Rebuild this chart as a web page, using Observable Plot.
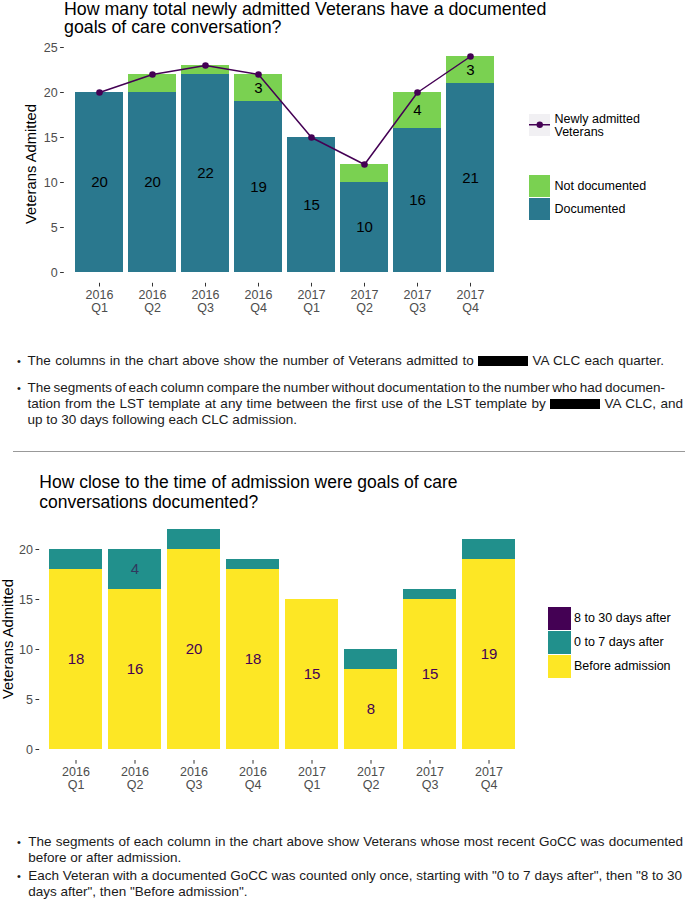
<!DOCTYPE html>
<html><head><meta charset="utf-8">
<script src="https://cdn.jsdelivr.net/npm/d3@7"></script>
<script src="https://cdn.jsdelivr.net/npm/@observablehq/plot@0.6"></script>
<style>
html,body{margin:0;padding:0;background:#fff;}
#page{position:relative;width:685px;height:905px;overflow:hidden;font-family:"Liberation Sans",Arial,Helvetica,sans-serif;color:#000;}
.abs{position:absolute;white-space:nowrap;}
.title{font-size:17.8px;line-height:17.8px;}
.p{font-size:13.5px;line-height:16px;color:#1a1a1a;}
.b{font-size:11px;line-height:16px;color:#1a1a1a;}
.redact{display:inline-block;width:50px;height:10.5px;background:#000;vertical-align:-1px;}
.key{position:absolute;}
.leg{position:absolute;font-size:12.5px;line-height:13px;white-space:nowrap;}
.ytitle{position:absolute;font-size:14.8px;line-height:17px;white-space:nowrap;transform:translate(-50%,-50%) rotate(-90deg);}
.svgwrap{position:absolute;left:0;}
</style></head>
<body><div id="page">
  <div id="c1" class="svgwrap" style="top:0px;"></div>
  <div id="c2" class="svgwrap" style="top:510px;"></div>

  <div class="abs title" style="left:64px;top:0.5px;">How many total newly admitted Veterans have a documented</div>
  <div class="abs title" style="left:64px;top:18.8px;">goals of care conversation?</div>
  <div class="ytitle" style="left:30.7px;top:164px;">Veterans Admitted</div>

  <div class="key" style="left:528.5px;top:114px;width:21.5px;height:21.5px;background:#f1f0f3;">
    <svg width="21.5" height="21.5" style="position:absolute;left:0;top:0;"><line x1="0" y1="10.75" x2="21.5" y2="10.75" stroke="#440154" stroke-width="1.5"/><circle cx="10.75" cy="10.75" r="3.2" fill="#440154"/></svg>
  </div>
  <div class="leg" style="left:554.5px;top:112.5px;">Newly admitted<br>Veterans</div>
  <div class="key" style="left:528.5px;top:175px;width:21.5px;height:21.7px;background:#7AD151;"></div>
  <div class="leg" style="left:554.5px;top:179.5px;">Not documented</div>
  <div class="key" style="left:528.5px;top:198.3px;width:21.5px;height:21.7px;background:#2A788E;"></div>
  <div class="leg" style="left:554.5px;top:202.5px;">Documented</div>

  <div class="abs b" style="left:17px;top:353px;">•</div>
  <span id="p1l1" class="abs p" style="left:27.5px;top:353px;">The columns in the chart above show the number of Veterans admitted to <span class="redact"></span> VA CLC each quarter.</span>
  <div class="abs b" style="left:17px;top:380px;">•</div>
  <span id="p2l1" class="abs p" style="left:27.5px;top:380px;">The segments of each column compare the number without documentation to the number who had documen-</span>
  <span id="p2l2" class="abs p" style="left:27.5px;top:396px;">tation from the LST template at any time between the first use of the LST template by <span class="redact"></span> VA CLC, and</span>
  <span id="p2l3" class="abs p" style="left:27.5px;top:412px;">up to 30 days following each CLC admission.</span>

  <div class="abs" style="left:12.7px;top:451px;width:673px;height:0;border-top:1.3px solid #999;"></div>

  <div class="abs title" style="left:39.3px;top:473.2px;font-size:17.5px;line-height:19.5px;">How close to the time of admission were goals of care<br>conversations documented?</div>
  <div class="ytitle" style="left:7.5px;top:639px;">Veterans Admitted</div>

  <div class="key" style="left:548.3px;top:607.3px;width:22.4px;height:22.5px;background:#440154;"></div>
  <div class="leg" style="left:574px;top:612.2px;">8 to 30 days after</div>
  <div class="key" style="left:548.3px;top:631px;width:22.4px;height:22.5px;background:#21908C;"></div>
  <div class="leg" style="left:574px;top:635.5px;">0 to 7 days after</div>
  <div class="key" style="left:548.3px;top:655px;width:22.4px;height:22.5px;background:#FDE725;"></div>
  <div class="leg" style="left:574px;top:659.5px;">Before admission</div>

  <div class="abs b" style="left:17px;top:834px;">•</div>
  <span id="p3l1" class="abs p" style="left:28.3px;top:834px;">The segments of each column in the chart above show Veterans whose most recent GoCC was documented</span>
  <span class="abs p" style="left:28.3px;top:850px;">before or after admission.</span>
  <div class="abs b" style="left:17px;top:868px;">•</div>
  <span id="p4l1" class="abs p" style="left:28.3px;top:868px;">Each Veteran with a documented GoCC was counted only once, starting with "0 to 7 days after", then "8 to 30</span>
  <span class="abs p" style="left:28.3px;top:884px;">days after", then "Before admission".</span>
</div>
<script>
// ---- data ----
const quarters = ["2016 Q1","2016 Q2","2016 Q3","2016 Q4","2017 Q1","2017 Q2","2017 Q3","2017 Q4"];
// chart 1
const statuses1 = ["Documented","Not documented"];
const colors1 = ["#2A788E","#7AD151"];
const documented = [20,20,22,19,15,10,16,21];
const notDocumented = [0,2,1,3,0,2,4,3];
const newlyAdmitted = [20,22,23,22,15,12,20,24];
const yTicks1 = [0,5,10,15,20,25];
// chart 2
const statuses2 = ["Before admission","0 to 7 days after","8 to 30 days after"];
const colors2 = ["#FDE725","#21908C","#440154"];
const beforeAdmission = [18,16,20,18,15,8,15,19];
const days0to7 = [2,4,2,1,0,2,1,2];
const days8to30 = [0,0,0,0,0,0,0,0];
const yTicks2 = [0,5,10,15,20];

const font = '"Liberation Sans", Arial, Helvetica, sans-serif';

const rows1 = [];
quarters.forEach((q,i)=>{
  rows1.push({quarter:q, status:statuses1[0], count:documented[i]});
  rows1.push({quarter:q, status:statuses1[1], count:notDocumented[i]});
});
const totals1 = quarters.map((q,i)=>({quarter:q, total:newlyAdmitted[i]}));

const chart1 = Plot.plot({
  width:685, height:320,
  marginLeft:63.8, marginRight:180.8, marginTop:45.2, marginBottom:37.2,
  x:{domain:quarters, paddingInner:0.1, paddingOuter:0.15},
  y:{domain:[-1.2,25.2]},
  color:{domain:statuses1, range:colors1},
  style:{fontFamily:font, background:"transparent", overflow:"visible"},
  marks:[
    Plot.barY(rows1, {x:"quarter", y:"count", fill:"status"}),
    Plot.text(rows1, Plot.stackY({x:"quarter", y:"count", text:d=>d.count>2?String(d.count):"", fill:"#000", fontSize:15})),
    Plot.line(totals1, {x:"quarter", y:"total", stroke:"#440154", strokeWidth:1.5}),
    Plot.dot(totals1, {x:"quarter", y:"total", fill:"#440154", r:3.3}),
    Plot.axisY({ticks:yTicks1, tickSize:3.7, tickPadding:3, fontSize:12.5, label:null, fill:"#4d4d4d", stroke:"#333"}),
    Plot.axisX({tickSize:3.7, tickPadding:3, fontSize:12.5, label:null, tickFormat:d=>d.replace(" ","\n"), lineHeight:1.04, fill:"#4d4d4d", stroke:"#333"})
  ]
});
document.getElementById("c1").appendChild(chart1);

const rows2 = [];
quarters.forEach((q,i)=>{
  rows2.push({quarter:q, status:statuses2[0], count:beforeAdmission[i]});
  rows2.push({quarter:q, status:statuses2[1], count:days0to7[i]});
  rows2.push({quarter:q, status:statuses2[2], count:days8to30[i]});
});

const chart2 = Plot.plot({
  width:685, height:290,
  marginLeft:39.2, marginRight:160.5, marginTop:8, marginBottom:40,
  x:{domain:quarters, paddingInner:0.1, paddingOuter:0.15},
  y:{domain:[-1.1,23.1]},
  color:{domain:statuses2, range:colors2},
  style:{fontFamily:font, background:"transparent", overflow:"visible"},
  marks:[
    Plot.barY(rows2, {x:"quarter", y:"count", fill:"status"}),
    Plot.text(rows2, Plot.stackY({x:"quarter", y:"count", text:d=>(d.status===statuses2[0] && d.count>2)?String(d.count):"", fill:"#440154", fontSize:15})),
    Plot.text(rows2, Plot.stackY({x:"quarter", y:"count", text:d=>(d.status!==statuses2[0] && d.count>2)?String(d.count):"", fill:"#30385e", fontSize:15})),
    Plot.axisY({ticks:yTicks2, tickSize:3.7, tickPadding:3, fontSize:12.5, label:null, fill:"#4d4d4d", stroke:"#333"}),
    Plot.axisX({tickSize:3.7, tickPadding:3, fontSize:12.5, label:null, tickFormat:d=>d.replace(" ","\n"), lineHeight:1.04, fill:"#4d4d4d", stroke:"#333"})
  ]
});
document.getElementById("c2").appendChild(chart2);

// fit line widths to the reference's line ends via word spacing
function fit(id, right){
  const el = document.getElementById(id);
  const page = document.getElementById("page").getBoundingClientRect();
  const r = el.getBoundingClientRect();
  const spaces = (el.textContent.match(/ /g) || []).length;
  if (spaces) el.style.wordSpacing = ((right - (r.right - page.left)) / spaces) + "px";
}
fit("p1l1", 664);
fit("p2l1", 665);
fit("p2l2", 683);
fit("p3l1", 683);
</script>
</body></html>
